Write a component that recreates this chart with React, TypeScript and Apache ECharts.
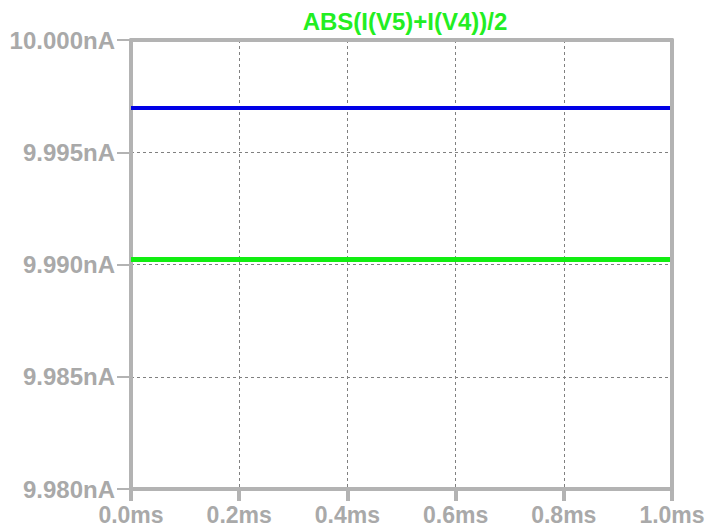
import React, { useEffect, useRef } from "react";
import * as echarts from "echarts";

const titleText = "ABS(I(V5)+I(V4))/2";
const timeMs = [0, 1];
const blueValues = [9.99697, 9.99697];
const greenValues = [9.99022, 9.99022];
const yMin = 9.98;
const yMax = 10.0;
const yStep = 0.005;
const xMin = 0;
const xMax = 1;
const xStep = 0.2;

export default function App() {
  const ref = useRef<HTMLDivElement>(null);
  useEffect(() => {
    if (!ref.current) return;
    const chart = echarts.init(ref.current, null, { renderer: "svg" });
    const font = "'Liberation Sans', Arial, sans-serif";
    const labelColor = "#a9a9a9";
    const frame = "#b3b3b3";
    chart.setOption({
      animation: false,
      backgroundColor: "#ffffff",
      title: {
        text: titleText,
        left: 400,
        top: 4,
        textAlign: "center",
        textStyle: { color: "#22ee22", fontSize: 24, fontWeight: "bold", fontFamily: font },
      },
      grid: {
        left: 131,
        right: 36,
        top: 40,
        bottom: 40,
        show: false,
      },
      xAxis: [
        {
          type: "value",
          min: xMin,
          max: xMax,
          interval: xStep,
          axisLine: { show: true, lineStyle: { color: frame, width: 4 } },
          axisTick: { show: true, inside: false, length: 12, lineStyle: { color: frame, width: 4 } },
          axisLabel: {
            color: labelColor,
            fontSize: 23,
            fontWeight: "bold",
            fontFamily: font,
            margin: 14,
            formatter: (v: number) => v.toFixed(1) + "ms",
          },
          splitLine: { show: true, lineStyle: { color: "#808080", width: 1, type: [3, 3] } },
          z: 2,
        },
        {
          type: "value",
          position: "top",
          min: xMin,
          max: xMax,
          interval: xStep,
          axisLine: { show: true, onZero: false, lineStyle: { color: frame, width: 4 } },
          axisTick: { show: false },
          axisLabel: { show: false },
          splitLine: { show: false },
          z: 5,
        },
      ],
      yAxis: [
        {
          type: "value",
          min: yMin,
          max: yMax,
          interval: yStep,
          axisLine: { show: true, lineStyle: { color: frame, width: 4 } },
          axisTick: { show: true, inside: false, length: 14, lineStyle: { color: frame, width: 2 } },
          axisLabel: {
            color: labelColor,
            fontSize: 24,
            fontWeight: "bold",
            fontFamily: font,
            margin: 16,
            formatter: (v: number) => v.toFixed(3) + "nA",
          },
          splitLine: { show: true, lineStyle: { color: "#808080", width: 1, type: [3, 3] } },
          z: 2,
        },
        {
          type: "value",
          position: "right",
          min: yMin,
          max: yMax,
          interval: yStep,
          axisLine: { show: true, onZero: false, lineStyle: { color: frame, width: 4 } },
          axisTick: { show: false },
          axisLabel: { show: false },
          splitLine: { show: false },
          z: 5,
        },
      ],
      series: [
        {
          type: "line",
          data: timeMs.map((t, i) => [t, blueValues[i]]),
          showSymbol: false,
          lineStyle: { color: "#0000e6", width: 4 },
          z: 3,
        },
        {
          type: "line",
          data: timeMs.map((t, i) => [t, greenValues[i]]),
          showSymbol: false,
          lineStyle: { color: "#11ee11", width: 5 },
          z: 3,
        },
      ],
    });
    return () => chart.dispose();
  }, []);
  return <div ref={ref} style={{ width: 708, height: 529, position: "absolute", left: 0, top: 0 }} />;
}
